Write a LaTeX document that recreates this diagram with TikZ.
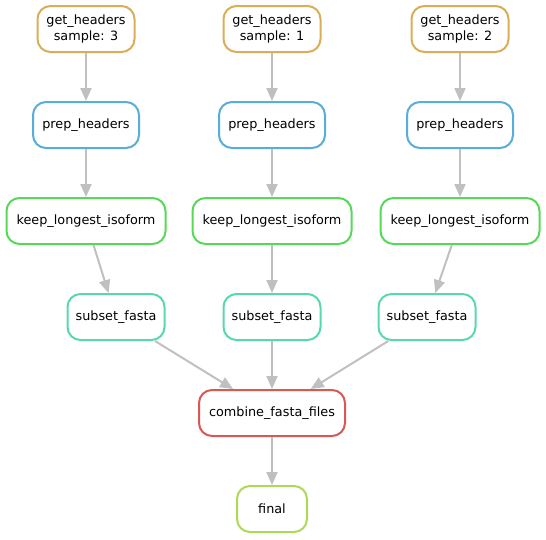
\documentclass[tikz,border=0pt]{standalone}
\usepackage{fontspec}
\setmainfont{DejaVu Sans}
\usetikzlibrary{arrows.meta}
\definecolor{cgold}{RGB}{217,174,87}
\definecolor{cblue}{RGB}{87,174,217}
\definecolor{cgreen}{RGB}{87,217,87}
\definecolor{cteal}{RGB}{87,217,174}
\definecolor{cred}{RGB}{217,87,87}
\definecolor{clime}{RGB}{174,217,87}
\definecolor{edgegrey}{RGB}{192,192,192}
\begin{document}
\begin{tikzpicture}[x=1pt,y=-1pt,
  rulebox/.style={draw, line width=2pt, rounded corners=13pt, fill=white,
    minimum height=46pt, inner sep=0pt, align=center,
    font=\fontsize{12.8pt}{16pt}\selectfont},
  edge/.style={draw=edgegrey, line width=2pt,
    -{Triangle[length=13pt,width=11pt]}}
]
\useasboundingbox (0,0) rectangle (546,539);
% row 1
\node[rulebox, draw=cgold, minimum width=97pt] (g3) at (86,29) {get\_headers\\sample: 3};
\node[rulebox, draw=cgold, minimum width=97pt] (g1) at (272,29) {get\_headers\\sample: 1};
\node[rulebox, draw=cgold, minimum width=97pt] (g2) at (460,29) {get\_headers\\sample: 2};
% row 2
\node[rulebox, draw=cblue, minimum width=106pt] (p3) at (86,125) {prep\_headers};
\node[rulebox, draw=cblue, minimum width=106pt] (p1) at (272,125) {prep\_headers};
\node[rulebox, draw=cblue, minimum width=106pt] (p2) at (460,125) {prep\_headers};
% row 3
\node[rulebox, draw=cgreen, minimum width=159pt] (k3) at (86,221) {keep\_longest\_isoform};
\node[rulebox, draw=cgreen, minimum width=159pt] (k1) at (272,221) {keep\_longest\_isoform};
\node[rulebox, draw=cgreen, minimum width=159pt] (k2) at (460,221) {keep\_longest\_isoform};
% row 4
\node[rulebox, draw=cteal, minimum width=97pt] (s3) at (116,317) {subset\_fasta};
\node[rulebox, draw=cteal, minimum width=97pt] (s1) at (272,317) {subset\_fasta};
\node[rulebox, draw=cteal, minimum width=97pt] (s2) at (427,317) {subset\_fasta};
% row 5
\node[rulebox, draw=cred, minimum width=146pt] (c) at (272,413) {combine\_fasta\_files};
% row 6
\node[rulebox, draw=clime, minimum width=70pt] (f) at (272,509) {final};
% edges
\draw[edge] (g3) -- (p3);
\draw[edge] (g1) -- (p1);
\draw[edge] (g2) -- (p2);
\draw[edge] (p3) -- (k3);
\draw[edge] (p1) -- (k1);
\draw[edge] (p2) -- (k2);
\draw[edge] (k3) -- (s3);
\draw[edge] (k1) -- (s1);
\draw[edge] (k2) -- (s2);
\draw[edge] (s3) -- (c);
\draw[edge] (s1) -- (c);
\draw[edge] (s2) -- (c);
\draw[edge] (c) -- (f);
\end{tikzpicture}
\end{document}
